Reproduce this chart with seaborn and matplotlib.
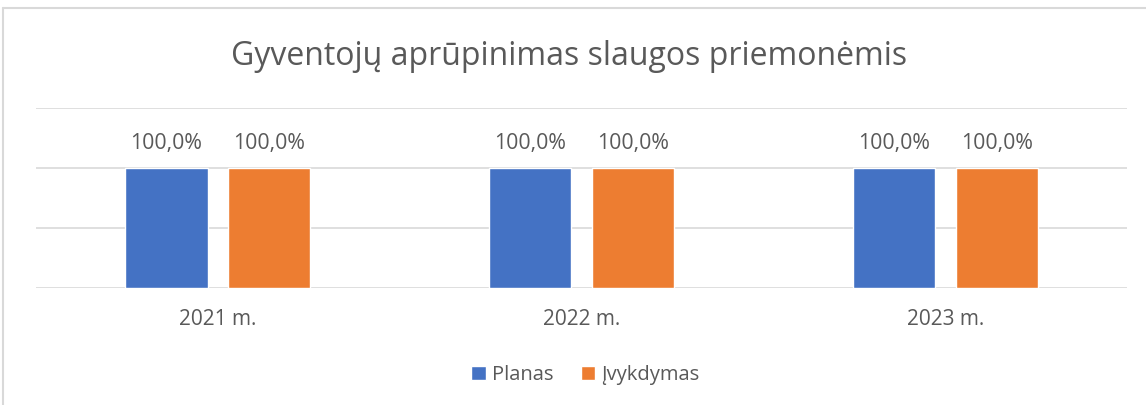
import numpy as np
import pandas as pd
import matplotlib
matplotlib.use("Agg")
import matplotlib.pyplot as plt
import seaborn as sns
from matplotlib.lines import Line2D

# Data
years = ["2021 m.", "2022 m.", "2023 m."]
planas = [100.0, 100.0, 100.0]
ivykdymas = [100.0, 100.0, 100.0]
series_names = ["Planas", "Įvykdymas"]
colors = ["#4472C4", "#ED7D31"]

df = pd.DataFrame({
    "year": years * 2,
    "value": planas + ivykdymas,
    "series": [series_names[0]] * len(years) + [series_names[1]] * len(years),
})

sns.set_style("white")
plt.rcParams["font.family"] = ["Open Sans", "DejaVu Sans"]
text_col = "#595959"
grid_col = "#D9D9D9"

fig = plt.figure(figsize=(11.46, 4.05), dpi=100)
ax = fig.add_axes([0.0314, 0.2889, 0.9521, 0.4444])

sns.barplot(data=df, x="year", y="value", hue="series", palette=colors,
            width=0.566, gap=0.2, ax=ax, legend=True, saturation=1)

ax.set_ylim(0, 150)
ax.set_yticks([0, 50, 100, 150])
ax.yaxis.grid(True, color=grid_col, linewidth=1.2)
ax.set_axisbelow(True)
ax.set_yticklabels([])
ax.tick_params(axis="y", length=0)
ax.tick_params(axis="x", length=0, pad=15, labelsize=15, labelcolor=text_col)
ax.set_xlabel("")
ax.set_ylabel("")
for s in ax.spines.values():
    s.set_visible(False)

# data labels
for cont in ax.containers:
    ax.bar_label(cont, labels=[f"{v:.1f}%".replace(".", ",") for v in cont.datavalues],
                 padding=10, fontsize=15.3, color=text_col)

# legend at the bottom
handles, labels = ax.get_legend_handles_labels()
ax.get_legend().remove()
fig.legend(handles, labels, loc="center", bbox_to_anchor=(0.511, 0.074), ncol=2,
           frameon=False, fontsize=14.5, labelcolor=text_col,
           handlelength=0.7, handleheight=0.7, handletextpad=0.3, columnspacing=1.4)

fig.suptitle("Gyventojų aprūpinimas slaugos priemonėmis", x=0.497, y=0.902,
             fontsize=23, color=text_col)

# chart frame (left and top edges visible)
fig.add_artist(Line2D([3 / 1146, 3 / 1146], [0, 1 - 8 / 405], color=grid_col, linewidth=1.5))
fig.add_artist(Line2D([3 / 1146, 1], [1 - 8 / 405, 1 - 8 / 405], color=grid_col, linewidth=1.5))

fig.savefig("out.png", dpi=100)
